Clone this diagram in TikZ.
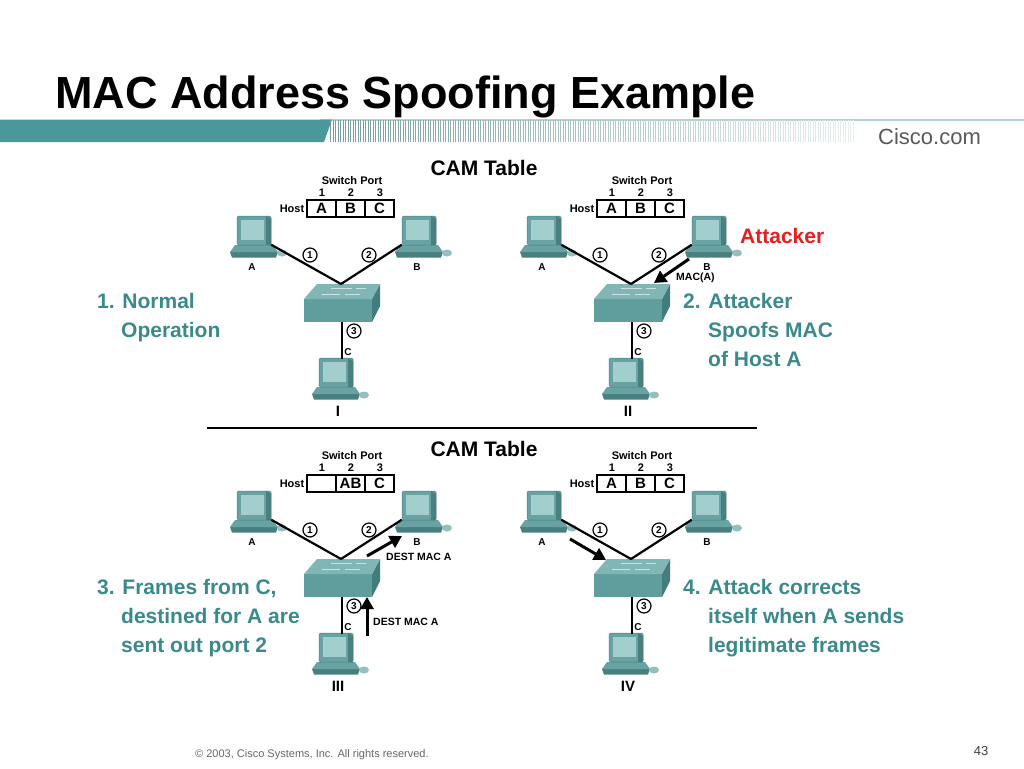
\documentclass[tikz,border=0pt]{standalone}
\usepackage{fontspec}
\setmainfont{Liberation Sans}
\usetikzlibrary{arrows.meta}
\definecolor{teal1}{RGB}{74,152,154}
\definecolor{stripecol}{RGB}{110,150,152}
\definecolor{tealtext}{RGB}{58,138,140}
\definecolor{attred}{RGB}{232,30,30}
\definecolor{monframe}{RGB}{104,162,162}
\definecolor{monscreen}{RGB}{162,206,206}
\definecolor{mondark}{RGB}{72,128,128}
\definecolor{swtop}{RGB}{128,182,182}
\definecolor{swfront}{RGB}{96,158,158}
\definecolor{swside}{RGB}{66,124,124}
\newcommand\fs[1]{\fontsize{#1}{#1}\selectfont}
\tikzset{
  smalllbl/.style={font=\fs{11}\bfseries, inner sep=0},
  hostlbl/.style={font=\fs{10}\bfseries, inner sep=0},
  portnum/.style={circle, draw, line width=1.2pt, fill=white, inner sep=0, minimum size=14pt, font=\fs{10}\bfseries},
  desc/.style={font=\fs{21}\bfseries, text=tealtext, anchor=base west, inner sep=0},
  mylink/.style={line width=2.2pt},
  bigarrow/.style={line width=3pt, -{Triangle[width=13pt,length=12pt]}},
  camcell/.style={draw, line width=1.2pt, minimum width=29pt, minimum height=17pt, inner sep=0, font=\fs{15}\bfseries},
  computer/.pic={
    \fill[mondark] (-24,21) -- (24,21) -- (22,26.5) -- (-22,26.5) -- cycle;
    \fill[monframe] (-19,14) -- (19,14) -- (24,21) -- (-24,21) -- cycle;
    \fill[monframe, draw=mondark, line width=0.5pt, rounded corners=1.5pt] (-17,-15) rectangle (17,14);
    \fill[mondark] (12,-15) -- (17,-12) -- (17,14) -- (12,14) -- cycle;
    \fill[monscreen] (-13,-11) rectangle (10,9);
    \fill[monframe!70!white] (28,22) ellipse [x radius=5pt, y radius=3.5pt];
    \node[inner sep=0, minimum width=34pt, minimum height=27pt] (-m) at (0,0) {};
  }
}
% #1 suffix, #2 #3 #4 cells, #5 roman
\newcommand\quadrant[5]{%
  \node[smalllbl] (sp#1) at (352,181) {Switch Port};
  \node[smalllbl] (pn1#1) at (322,193) {1};
  \node[smalllbl] (pn2#1) at (351,193) {2};
  \node[smalllbl] (pn3#1) at (380,193) {3};
  \node[smalllbl] (host#1) at (292,208.5) {Host};
  \node[camcell] (ca#1) at (321.5,208.5) {#2};
  \node[camcell] (cb#1) at (350.5,208.5) {#3};
  \node[camcell] (cc#1) at (379.5,208.5) {#4};
  \pic (pa#1) at (254,231) {computer};
  \pic (pb#1) at (419,231) {computer};
  \pic (pc#1) at (336,373) {computer};
  \node[hostlbl] (la#1) at (252,267) {A};
  \node[hostlbl] (lb#1) at (417,267) {B};
  \node[hostlbl] (lc#1) at (348,352) {C};
  \node[font=\fs{15}\bfseries, inner sep=0] (rn#1) at (338,411) {#5};
  % switch
  \node[inner sep=0, minimum width=76pt, minimum height=38pt] (sw#1) at (342,303) {};
  \fill[swfront] (304,299) rectangle (372,322);
  \fill[swside] (372,299) -- (380,284) -- (380,306) -- (372,322) -- cycle;
  \fill[swtop] (317,284) -- (380,284) -- (372,299) -- (304,299) -- cycle;
  \draw[swtop!40!white, line width=1.2pt] (331,288.5) -- (352,288.5) (356,288.5) -- (366,288.5)
     (322,294.5) -- (340,294.5) (345,294.5) -- (360,294.5);
  \coordinate (hub#1) at (341,284);
  \draw[mylink] (pa#1-m.south east) -- (hub#1);
  \draw[mylink] (pb#1-m.south west) -- (hub#1);
  \draw[mylink] (sw#1.south) -- (sw#1.south |- pc#1-m.north);
  \node[portnum] (n1#1) at (310,255) {1};
  \node[portnum] (n2#1) at (369,255) {2};
  \node[portnum] (n3#1) at (354,331) {3};
}
\begin{document}
\begin{tikzpicture}[x=1pt,y=-1pt]
\useasboundingbox (0,0) rectangle (1024,768);
\fill[white] (0,0) rectangle (1024,768);
% header
\node[font=\fs{45}\bfseries, anchor=base west, inner sep=0] (title) at (55,108) {MAC Address Spoofing Example};
\draw[teal1!45!white, line width=1.4pt] (320,120) -- (1024,120);
\fill[teal1] (0,119.5) -- (332,119.5) -- (324,142) -- (0,142) -- cycle;
\foreach \i in {0,...,209} {
  \pgfmathsetmacro\xx{330+2.5*\i}
  \pgfmathsetmacro\tv{95-0.38*\i}
  \fill[stripecol!\tv!white] (\xx,120) rectangle ++(1.1,22);
}
\node[font=\fs{22}, text=black!65, anchor=base west, inner sep=0] (cisco) at (878,144) {Cisco.com};
% CAM table headings
\node[font=\fs{21}\bfseries, inner sep=0] (cam1) at (484,168) {CAM Table};
\node[font=\fs{21}\bfseries, inner sep=0] (cam2) at (484,449) {CAM Table};
% quadrants
\quadrant{I}{A}{B}{C}{I}
\begin{scope}[shift={(290,0)}]
  \quadrant{II}{A}{B}{C}{II}
\end{scope}
\begin{scope}[shift={(0,275)}]
  \quadrant{III}{}{AB}{C}{III}
\end{scope}
\begin{scope}[shift={(290,275)}]
  \quadrant{IV}{A}{B}{C}{IV}
\end{scope}
% separator
\coordinate (sepl) at (207,428);
\coordinate (sepr) at (757,428);
\draw[line width=2.5pt] (sepl) -- (sepr);
% descriptions
\node[desc] (d1a) at (97,308) {1. Normal};
\node[desc] (d1b) at (121,337) {Operation};
\node[desc] (d2a) at (683,308) {2. Attacker};
\node[desc] (d2b) at (708,337) {Spoofs MAC};
\node[desc] (d2c) at (708,366) {of Host A};
\node[desc] (d3a) at (97,594) {3. Frames from C,};
\node[desc] (d3b) at (121,623) {destined for A are};
\node[desc] (d3c) at (121,652) {sent out port 2};
\node[desc] (d4a) at (683,594) {4. Attack corrects};
\node[desc] (d4b) at (708,623) {itself when A sends};
\node[desc] (d4c) at (708,652) {legitimate frames};
\node[font=\fs{21}\bfseries, text=attred, anchor=base west, inner sep=0] (att) at (740,243) {Attacker};
% arrows
\coordinate (a2t) at (689,259); \coordinate (a2h) at (654,283);
\draw[bigarrow] (a2t) -- (a2h);
\node[font=\fs{10.5}\bfseries, anchor=west, inner sep=0] (mac) at (676,278) {MAC(A)};
\coordinate (a3t) at (367,556); \coordinate (a3h) at (402,536);
\draw[bigarrow] (a3t) -- (a3h);
\node[font=\fs{10.5}\bfseries, anchor=west, inner sep=0] (dm1) at (386,557) {DEST MAC A};
\coordinate (a4t) at (367,636); \coordinate (a4h) at (367,597);
\draw[bigarrow] (a4t) -- (a4h);
\node[font=\fs{10.5}\bfseries, anchor=west, inner sep=0] (dm2) at (373,622) {DEST MAC A};
\coordinate (a5t) at (570,539); \coordinate (a5h) at (606,560);
\draw[bigarrow] (a5t) -- (a5h);
% footer
\node[font=\fs{11}, text=black!60, anchor=base west, inner sep=0] (foot) at (195,757) {© 2003, Cisco Systems, Inc. All rights reserved.};
\node[font=\fs{13}, text=black!75, inner sep=0] (page) at (981,751) {43};
\end{tikzpicture}
\end{document}
